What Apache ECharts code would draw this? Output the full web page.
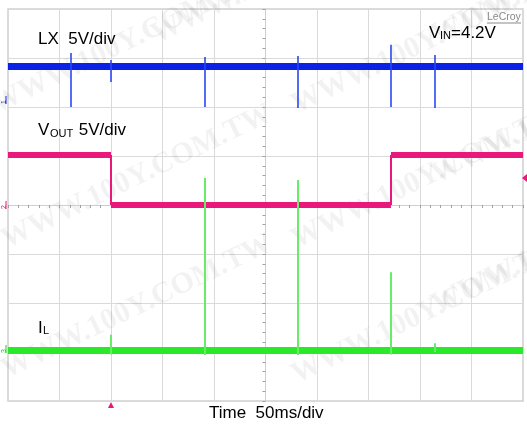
<!DOCTYPE html>
<html><head><meta charset="utf-8">
<script src="https://cdn.jsdelivr.net/npm/echarts@6/dist/echarts.min.js"></script>
<style>html,body{margin:0;padding:0;background:#fff}#c{width:527px;height:424px}</style>
</head><body><div id="c"></div>
<script>
// Time in ms relative to screen centre (50 ms/div); amplitude in divisions (5 V/div)
const lxLevel = 2.84;
const lxSpikeTimes  = [-188.8, -150, -58.7, 31.6, 121.8, 164.6];
const lxSpikeTop    = [3.10, 2.96, 3.02, 3.04, 3.27, 3.06];
const lxSpikeBottom = [2.00, 2.51, 2.00, 1.98, 2.00, 1.98];

const voutTimes  = [-250, -150, -150, 121.8, 121.8, 250];
const voutValues = [1.02, 1.02, 0.00, 0.00, 1.02, 1.02];

const ilLevel = -2.96;
const ilSpikeTimes  = [-150, -58.7, 31.6, 121.8, 164.6];
const ilSpikeTop    = [-2.65, 0.55, 0.51, -1.37, -2.82];
const ilSpikeBottom = [-3.05, -3.06, -3.06, -3.05, -3.00];

const triggerTime = -150;

const FONT = '"Liberation Sans", Arial, sans-serif';
const BLUE = '#0b22e6', PINK = '#e8187c', GREEN = '#2ae82a', GREEN2 = '#66ec66';

function seg(x1, y1, x2, y2) { return { coords: [[x1, y1], [x2, y2]] }; }

const voutFlat = [], voutEdge = [];
for (let i = 0; i < voutTimes.length - 1; i++) {
  const s = seg(voutTimes[i], voutValues[i], voutTimes[i + 1], voutValues[i + 1]);
  (voutTimes[i] === voutTimes[i + 1] ? voutEdge : voutFlat).push(s);
}

const chart = echarts.init(document.getElementById('c'), null, { renderer: 'canvas' });

const wm = [];
[[0,120],[10,255],[10,385],[160,50],[300,120],[300,255],[300,390],[440,50],[440,190],[440,320]].forEach(p => {
  wm.push({ type: 'text', silent: true, z: 0, x: p[0], y: p[1], rotation: 0.45,
    style: { text: 'WWW.100Y.COM.TW', font: 'bold 30px "Liberation Serif", serif', fill: 'rgba(0,0,0,0.05)', verticalAlign: 'bottom' } });
});

chart.setOption({
  animation: false,
  backgroundColor: '#fff',
  grid: { left: 8, top: 9, width: 515, height: 392, show: true, borderColor: '#cfcfcf', borderWidth: 1.5 },
  xAxis: {
    type: 'value', min: -250, max: 250, interval: 50,
    axisLine: { show: true, onZero: true, lineStyle: { color: '#cfcfcf' } },
    axisTick: { show: true, length: 3, lineStyle: { color: '#a0a0a0' } },
    minorTick: { show: true, splitNumber: 5, length: 3, lineStyle: { color: '#a0a0a0' } },
    axisLabel: { show: false },
    splitLine: { show: true, lineStyle: { color: '#dadada', width: 1 } }
  },
  yAxis: {
    type: 'value', min: -4, max: 4, interval: 1,
    axisLine: { show: true, onZero: true, lineStyle: { color: '#cfcfcf' } },
    axisTick: { show: true, length: 3, lineStyle: { color: '#a0a0a0' } },
    minorTick: { show: true, splitNumber: 5, length: 3, lineStyle: { color: '#a0a0a0' } },
    axisLabel: { show: false },
    splitLine: { show: true, lineStyle: { color: '#dadada', width: 1 } }
  },
  series: [
    { type: 'lines', coordinateSystem: 'cartesian2d', silent: true,
      lineStyle: { color: BLUE, width: 7, opacity: 1, cap: 'butt' },
      data: [seg(-250, lxLevel, 250, lxLevel)] },
    { type: 'lines', coordinateSystem: 'cartesian2d', silent: true,
      lineStyle: { color: '#2a48f0', width: 1.6, opacity: 1 },
      data: lxSpikeTimes.map((t, i) => seg(t, lxSpikeTop[i], t, lxSpikeBottom[i])) },
    { type: 'lines', coordinateSystem: 'cartesian2d', silent: true,
      lineStyle: { color: PINK, width: 6, opacity: 1, cap: 'butt' },
      data: voutFlat },
    { type: 'lines', coordinateSystem: 'cartesian2d', silent: true,
      lineStyle: { color: PINK, width: 2, opacity: 1 },
      data: voutEdge },
    { type: 'lines', coordinateSystem: 'cartesian2d', silent: true,
      lineStyle: { color: GREEN, width: 7, opacity: 1, cap: 'butt' },
      data: [seg(-250, ilLevel, 250, ilLevel)] },
    { type: 'lines', coordinateSystem: 'cartesian2d', silent: true, z: 5,
      lineStyle: { color: GREEN2, width: 2, opacity: 1 },
      data: ilSpikeTimes.map((t, i) => seg(t, ilSpikeTop[i], t, ilSpikeBottom[i])) }
  ]
});

const trigX = chart.convertToPixel({ xAxisIndex: 0 }, triggerTime);
const T = (x, y, text, size, fill) => ({ type: 'text', x, y, silent: true, z: 10,
  style: { text, font: size + 'px ' + FONT, fill: fill || '#000', verticalAlign: 'top' } });

chart.setOption({
  graphic: wm.concat([
    T(38, 31, 'LX  5V/div', 17),
    T(38, 122, 'V', 17), T(50, 128, 'OUT', 11), T(74, 122, ' 5V/div', 17),
    T(38, 320, 'I', 17), T(43, 325, 'L', 11),
    T(429, 25, 'V', 17), T(440, 30, 'IN', 11), T(451, 25, '=4.2V', 17),
    T(209, 405, 'Time  50ms/div', 17),
    T(487, 12, 'LeCroy', 10.5, '#8a8a8a'),
    { type: 'line', silent: true, shape: { x1: 487, y1: 23, x2: 521, y2: 23 }, style: { stroke: '#8a8a8a', lineWidth: 1 } },
    { type: 'polygon', silent: true, shape: { points: [[trigX - 3, 408], [trigX + 3, 408], [trigX, 402]] }, style: { fill: PINK } },
    { type: 'polygon', silent: true, shape: { points: [[527, 174], [527, 182], [522, 178]] }, style: { fill: PINK } },
    { type: 'text', silent: true, x: 1, y: 104, rotation: Math.PI / 2, style: { text: '1', font: '7px ' + FONT, fill: BLUE, verticalAlign: 'top' } },
    { type: 'line', silent: true, shape: { x1: 6, y1: 96, x2: 6, y2: 104 }, style: { stroke: BLUE, lineWidth: 1 } },
    { type: 'text', silent: true, x: 1, y: 209, rotation: Math.PI / 2, style: { text: '2', font: '7px ' + FONT, fill: PINK, verticalAlign: 'top' } },
    { type: 'line', silent: true, shape: { x1: 6, y1: 201, x2: 6, y2: 209 }, style: { stroke: PINK, lineWidth: 1 } },
    { type: 'text', silent: true, x: 1, y: 353, rotation: Math.PI / 2, style: { text: '3', font: '7px ' + FONT, fill: '#22c822', verticalAlign: 'top' } },
    { type: 'line', silent: true, shape: { x1: 6, y1: 345, x2: 6, y2: 353 }, style: { stroke: '#22c822', lineWidth: 1 } }
  ])
});
</script>
</body></html>
